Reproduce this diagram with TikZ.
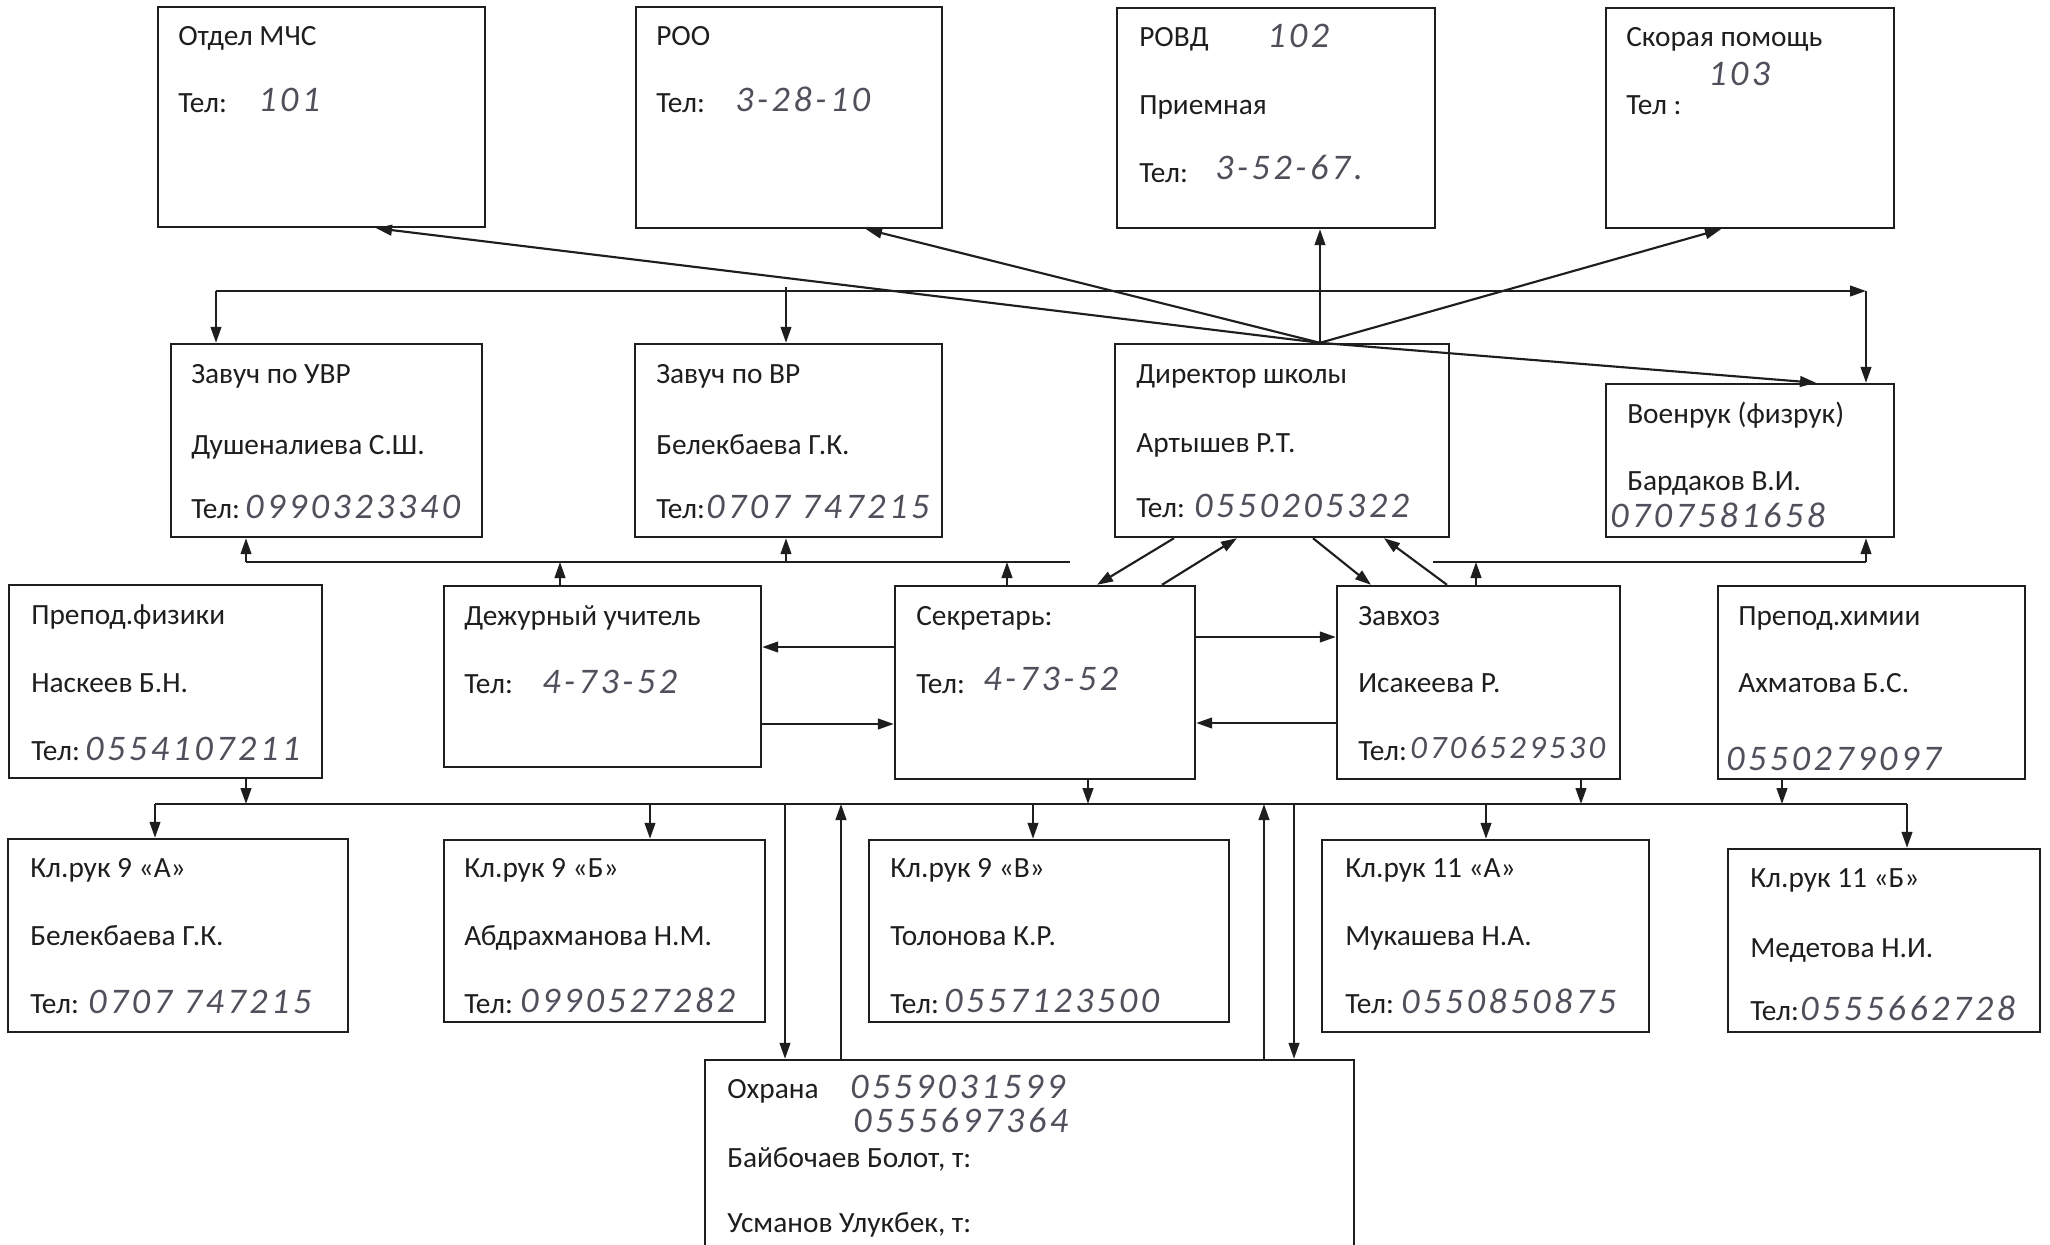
\documentclass[tikz,border=0pt]{standalone}
\usepackage{fontspec}
\setmainfont{Carlito}
\newfontfamily\handfont[LetterSpace=10]{Carlito}
\usetikzlibrary{arrows.meta,fit}
\definecolor{ink}{RGB}{30,30,30}
\definecolor{pen}{RGB}{80,80,92}
\tikzset{
 box/.style={draw=ink, line width=1.8pt, inner sep=0pt},
 arr/.style={draw=ink, line width=1.6pt, -{Triangle[length=12pt,width=8pt]}},
 ln/.style={draw=ink, line width=1.6pt},
 lbl/.style={anchor=base west, inner sep=0pt, text=ink, font=\fontsize{22}{26}\selectfont},
 hwr/.style={anchor=base west, inner sep=0pt, text=pen, font=\handfont\itshape\fontsize{27}{30}\selectfont},
 hwrs/.style={hwr, font=\handfont\itshape\fontsize{24.5}{28}\selectfont},
}
\newcommand\mkbox[5]{\coordinate (#1-nw) at (#2,#3); \coordinate (#1-se) at (#4,#5); \node[box, fit=(#1-nw)(#1-se)] (#1) {};}
\newcommand\tx[4]{\node[lbl] (#1) at (#2,#3) {#4};}
\newcommand\htx[4]{\node[hwr] (#1) at (#2,#3) {#4};}
\begin{document}
\begin{tikzpicture}[x=0.75pt,y=-0.75pt]
\path[fill=white] (0,0) rectangle (2050,1245);
\useasboundingbox (0,0) rectangle (2050,1245);
% boxes
\mkbox{mchs}{158}{7}{485}{227}
\mkbox{roo}{636}{7}{942}{228}
\mkbox{rovd}{1117}{8}{1435}{228}
\mkbox{skor}{1606}{8}{1894}{228}
\mkbox{uvr}{171}{344}{482}{537}
\mkbox{vr}{635}{344}{942}{537}
\mkbox{dir}{1115}{344}{1449}{537}
\mkbox{voen}{1606}{384}{1894}{537}
\mkbox{fiz}{9}{585}{322}{778}
\mkbox{dezh}{444}{586}{761}{767}
\mkbox{sekr}{895}{586}{1195}{779}
\mkbox{zavh}{1337}{586}{1620}{779}
\mkbox{him}{1718}{586}{2025}{779}
\mkbox{ka}{8}{839}{348}{1032}
\mkbox{kb}{444}{840}{765}{1022}
\mkbox{kv}{869}{840}{1229}{1022}
\mkbox{kla}{1322}{840}{1649}{1032}
\mkbox{klb}{1728}{849}{2040}{1032}
\mkbox{ohr}{705}{1060}{1354}{1265}
% texts
\tx{t1}{178}{46}{Отдел МЧС}
\tx{t2}{178}{113}{Тел:}
\htx{h1}{258}{112}{101}
\tx{t3}{656}{46}{РОО}
\tx{t4}{656}{113}{Тел:}
\htx{h2}{735}{112}{3-28-10}
\tx{t5}{1139}{47}{РОВД}
\htx{h3}{1267}{48}{102}
\tx{t6}{1139}{115}{Приемная}
\tx{t7}{1139}{183}{Тел:}
\htx{h4}{1215}{180}{3-52-67.}
\tx{t8}{1626}{47}{Скорая помощь}
\htx{h5}{1708}{86}{103}
\tx{t9}{1626}{115}{Тел :}
\tx{t10}{191}{383}{Завуч по УВР}
\tx{t11}{191}{454}{Душеналиева С.Ш.}
\tx{t12}{191}{518}{Тел:}
\htx{h6}{245}{518}{0990323340}
\tx{t13}{656}{383}{Завуч по ВР}
\tx{t14}{656}{454}{Белекбаева Г.К.}
\tx{t15}{656}{518}{Тел:}
\htx{h7}{706}{518}{0707 747215}
\tx{t16}{1136}{383}{Директор школы}
\tx{t17}{1136}{452}{Артышев Р.Т.}
\tx{t18}{1136}{517}{Тел:}
\htx{h8}{1194}{517}{0550205322}
\tx{t19}{1627}{423}{Военрук (физрук)}
\tx{t20}{1627}{490}{Бардаков В.И.}
\htx{h9}{1610}{527}{0707581658}
\tx{t21}{31}{624}{Препод.физики}
\tx{t22}{31}{692}{Наскеев Б.Н.}
\tx{t23}{31}{760}{Тел:}
\htx{h10}{85}{760}{0554107211}
\tx{t24}{464}{625}{Дежурный учитель}
\tx{t25}{464}{693}{Тел:}
\htx{h11}{542}{693}{4-73-52}
\tx{t26}{916}{625}{Секретарь:}
\tx{t27}{916}{693}{Тел:}
\htx{h12}{983}{690}{4-73-52}
\tx{t28}{1358}{625}{Завхоз}
\tx{t29}{1358}{692}{Исакеева Р.}
\tx{t30}{1358}{760}{Тел:}
\node[hwrs] (h13) at (1410,758) {0706529530};
\tx{t31}{1738}{625}{Препод.химии}
\tx{t32}{1738}{692}{Ахматова Б.С.}
\htx{h14}{1726}{770}{0550279097}
\tx{t33}{30}{877}{Кл.рук 9 «А»}
\tx{t34}{30}{945}{Белекбаева Г.К.}
\tx{t35}{30}{1013}{Тел:}
\htx{h15}{88}{1013}{0707 747215}
\tx{t36}{464}{877}{Кл.рук 9 «Б»}
\tx{t37}{464}{945}{Абдрахманова Н.М.}
\tx{t38}{464}{1013}{Тел:}
\htx{h16}{520}{1012}{0990527282}
\tx{t39}{890}{877}{Кл.рук 9 «В»}
\tx{t40}{890}{945}{Толонова К.Р.}
\tx{t41}{890}{1013}{Тел:}
\htx{h17}{944}{1012}{0557123500}
\tx{t42}{1345}{877}{Кл.рук 11 «А»}
\tx{t43}{1345}{945}{Мукашева Н.А.}
\tx{t44}{1345}{1013}{Тел:}
\htx{h18}{1401}{1013}{0550850875}
\tx{t45}{1750}{887}{Кл.рук 11 «Б»}
\tx{t46}{1750}{957}{Медетова Н.И.}
\tx{t47}{1750}{1020}{Тел:}
\htx{h19}{1800}{1020}{0555662728}
\tx{t48}{727}{1098}{Охрана}
\htx{h20}{850}{1098}{0559031599}
\htx{h21}{853}{1132}{0555697364}
\tx{t49}{727}{1167}{Байбочаев Болот, т:}
\tx{t50}{727}{1232}{Усманов Улукбек, т:}
% director to top boxes
\coordinate (dtop) at (1320,0 |- dir.north);
\draw[arr] (dtop) -- (376,0 |- mchs.south);
\draw[arr] (dtop) -- (866,0 |- roo.south);
\draw[arr] (dtop) -- (dtop |- rovd.south);
\draw[arr] (dtop) -- (1721,0 |- skor.south);
\draw[arr] (dtop) -- (1816,0 |- voen.north);
% top bus
\coordinate (bL) at (216,291);
\coordinate (bR) at (1866,291);
\coordinate (bV) at (786,291);
\draw[arr] (bL) -- (bR);
\draw[arr] (bL) -- (bL |- uvr.north);
\draw[arr] ([yshift=3pt]bV) -- (bV |- vr.north);
\draw[arr] (bR) -- (bR |- voen.north);
% middle bus
\coordinate (mL) at (246,562);
\coordinate (mE) at (1070,562);
\coordinate (mR1) at (1433,562);
\coordinate (mR) at (1866,562);
\draw[ln] (mL) -- (mE);
\draw[arr] (mL) -- (mL |- uvr.south);
\draw[arr] (786,562) -- (786,0 |- vr.south);
\draw[arr] (560,0 |- dezh.north) -- (560,562);
\draw[arr] (1007,0 |- sekr.north) -- (1007,562);
\draw[ln] (mR1) -- (mR);
\draw[arr] (mR) -- (mR |- voen.south);
\draw[arr] (1476,0 |- zavh.north) -- (1476,562);
% director - secretary / zavhoz
\draw[arr] (1174,0 |- dir.south) -- (1097,0 |- sekr.north);
\draw[arr] (1162,0 |- sekr.north) -- (1237,0 |- dir.south);
\draw[arr] (1313,0 |- dir.south) -- (1371,0 |- zavh.north);
\draw[arr] (1447,0 |- zavh.north) -- (1384,0 |- dir.south);
% duty - secretary - zavhoz
\draw[arr] (sekr.west |- 0,647) -- (dezh.east |- 0,647);
\draw[arr] (dezh.east |- 0,724) -- (sekr.west |- 0,724);
\draw[arr] (sekr.east |- 0,637) -- (zavh.west |- 0,637);
\draw[arr] (zavh.west |- 0,723) -- (sekr.east |- 0,723);
% bottom bus
\coordinate (cL) at (155,804);
\coordinate (cR) at (1907,804);
\draw[ln] (cL) -- (cR);
\draw[arr] (246,0 |- fiz.south) -- (246,804);
\draw[arr] (1088,0 |- sekr.south) -- (1088,804);
\draw[arr] (1581,0 |- zavh.south) -- (1581,804);
\draw[arr] (1782,0 |- him.south) -- (1782,804);
\draw[arr] (cL) -- (cL |- ka.north);
\draw[arr] (650,804) -- (650,0 |- kb.north);
\draw[arr] (1033,804) -- (1033,0 |- kv.north);
\draw[arr] (1486,804) -- (1486,0 |- kla.north);
\draw[arr] (cR) -- (cR |- klb.north);
% guard
\draw[arr] (785,804) -- (785,0 |- ohr.north);
\draw[arr] (841,0 |- ohr.north) -- (841,804);
\draw[arr] (1264,0 |- ohr.north) -- (1264,804);
\draw[arr] (1294,804) -- (1294,0 |- ohr.north);
\end{tikzpicture}
\end{document}
